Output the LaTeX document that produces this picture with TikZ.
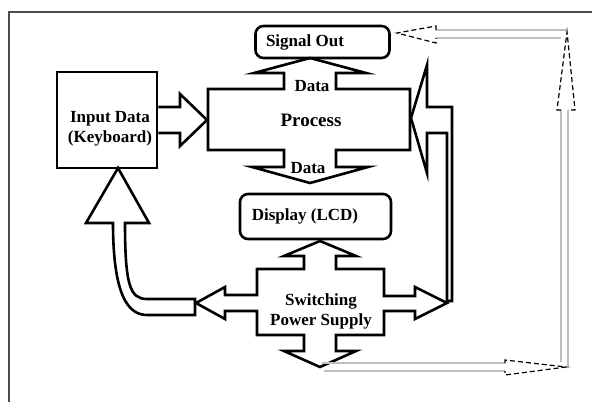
\documentclass[tikz,border=0pt]{standalone}
\usepackage{fontspec}
\setmainfont{Liberation Serif}
\tikzset{
    blk/.style={draw, line width=1.3pt, line join=miter},
    box/.style={draw, line width=1.3pt},
    lbl/.style={font=\bfseries\fontsize{8.5}{10}\selectfont, align=center, inner sep=0pt},
    feed/.style={draw=gray!50, line width=0.8pt},
    feedhead/.style={draw=black, line width=0.6pt, dash pattern=on 2.5pt off 1.5pt}
}

\begin{document}
\begin{tikzpicture}[x=0.5pt, y=-0.5pt]
            \useasboundingbox (0,0) rectangle (592,402);
            \draw[gray!60!black, line width=1pt] (9,402) -- (9,12) -- (592,12);
            
            \node[box, rounded corners=4pt, minimum width=67pt, minimum height=16pt] (sigout) at (322.5,42) {};
            \node[box, rounded corners=4pt, minimum width=75.5pt, minimum height=22.5pt] (display) at (315.5,216.5) {};
            \node[box, minimum width=50pt, minimum height=48pt] (input) at (107,120) {};
            
            % process block with data arrows
            \draw[blk] (208,89) -- (284,89) -- (284,73) -- (254,73) -- (310,58) -- (366,73) -- (336,73) -- (336,89)
                -- (410,89) -- (410,150) -- (336,150) -- (336,167) -- (368,167) -- (310,183) -- (252,167)
                -- (284,167) -- (284,150) -- (208,150) -- cycle;
            
            % switching power supply block
            \draw[blk] (257,269) -- (304,269) -- (304,256) -- (284,256) -- (320,241) -- (356,256) -- (336,256) -- (336,269)
                -- (384,269) -- (384,296) -- (415,296) -- (415,287) -- (447,303) -- (415,319) -- (415,311) -- (384,311)
                -- (384,335) -- (336,335) -- (336,351) -- (356,351) -- (320,367) -- (284,351) -- (304,351) -- (304,335)
                -- (257,335) -- (257,311) -- (225,311) -- (225,319) -- (196,303) -- (225,287) -- (225,295) -- (257,295) -- cycle;
            
            % input to process
            \draw[blk] (input.east |- 0,107) -- (180,107) -- (180,94) -- (207,120) -- (180,146) -- (180,133) -- (input.east |- 0,133);
            
            % power supply to process
            \draw[blk] (447,301) -- (447,133) -- (427,133) -- (427,173) -- (411,118) -- (427,65) -- (427,107) -- (452,107) -- (452,301) -- cycle;
            
            % power supply to input
            \draw[blk] (195,299) -- (147,299) .. controls (130,299) and (125,285) .. (125,223) -- (149,223) -- (118,168)
                -- (86,223) -- (113,223) .. controls (113,295) and (128,315) .. (147,315) -- (195,315) -- cycle;
            
            % feedback to signal out
            \draw[feed] (322,363) -- (505,363);
            \draw[feed] (324,371) -- (505,371);
            \draw[feed] (561,110) -- (561,362);
            \draw[feed] (568,110) -- (568,366);
            \draw[feed] (436,30) -- (567,30);
            \draw[feed] (436,38) -- (561,38);
            \draw[feedhead] (505,363) -- (505,360) -- (566,367) -- (505,375) -- (505,371);
            \draw[feedhead] (561,110) -- (557,110) -- (567,32) -- (575,110) -- (568,110);
            \draw[feedhead] (436,30) -- (436,26) -- (397,33) -- (436,43) -- (436,38);
            
            \node[lbl] (sigtext) at (305,42) {Signal Out};
            \node[lbl] (dataup) at (312,86) {Data};
            \node[lbl, font=\bfseries\fontsize{9.5}{11}\selectfont] (process) at (311,120) {Process};
            \node[lbl] (datadown) at (308,168) {Data};
            \node[lbl] (disptext) at (305,216) {Display (LCD)};
            \node[lbl] (inputtext) at (110,129) {Input Data\\(Keyboard)};
            \node[lbl] (switching) at (321,311) {Switching\\Power Supply};
            \end{tikzpicture}
\end{document}
